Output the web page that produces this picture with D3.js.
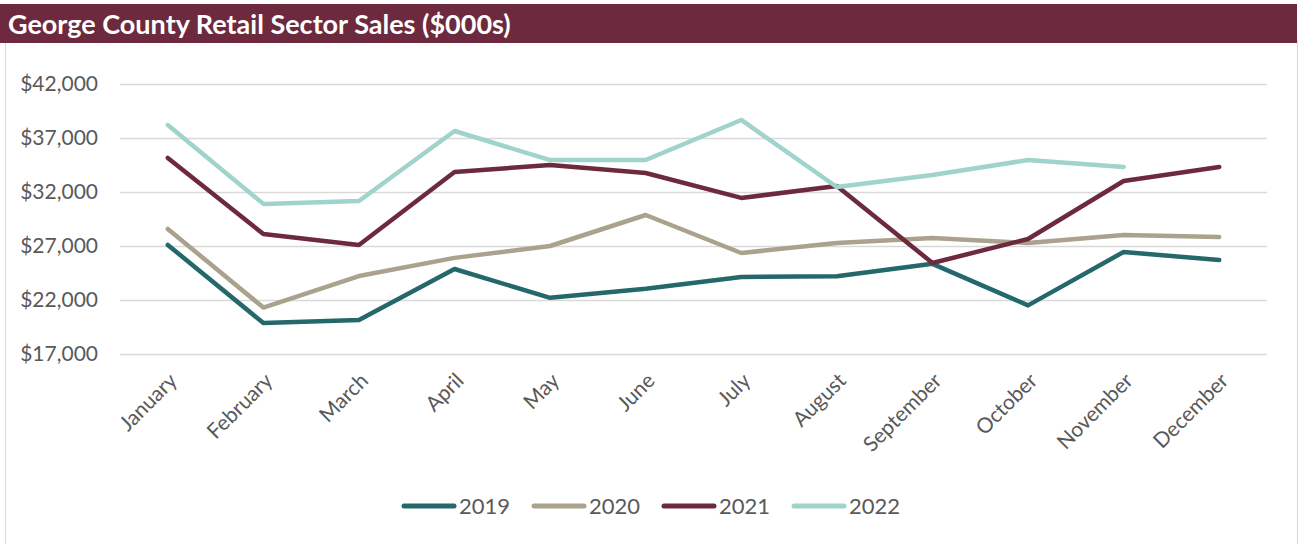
<!DOCTYPE html>
<html>
<head>
<meta charset="utf-8">
<script src="https://cdn.jsdelivr.net/npm/d3@7"></script>
<style>
  body { margin: 0; background: #fff; }
  svg { display: block; font-family: Lato, "Open Sans", sans-serif; }
</style>
</head>
<body>
<svg id="drawing_region"></svg>
<script>
const months = ['January', 'February', 'March', 'April', 'May', 'June',
    'July', 'August', 'September', 'October', 'November', 'December'];
const yTicks = [17000, 22000, 27000, 32000, 37000, 42000];

const sales2019 = [27100, 19870, 20150, 24870, 22200, 23050, 24130, 24200, 25350, 21500, 26450, 25700];
const sales2020 = [28580, 21300, 24220, 25900, 27000, 29870, 26350, 27280, 27750, 27280, 28020, 27830];
const sales2021 = [35150, 28110, 27100, 33850, 34500, 33760, 31450, 32550, 25430, 27650, 33020, 34320];
const sales2022 = [38200, 30900, 31170, 37650, 34960, 34960, 38670, 32460, 33570, 34960, 34320, null];

const series = [
    { name: '2019', values: sales2019, color: '#24686b' },
    { name: '2020', values: sales2020, color: '#aaa28c' },
    { name: '2021', values: sales2021, color: '#6d2a3e' },
    { name: '2022', values: sales2022, color: '#9fd3cb' }
];

const width = 1303;
const height = 544;

const svg = d3.select('#drawing_region')
    .attr('width', width)
    .attr('height', height);

// chart frame
svg.append('rect')
    .attr('x', 5.5).attr('y', 40.5)
    .attr('width', 1292).attr('height', 510)
    .attr('fill', 'none')
    .attr('stroke', '#d9d9d9');

// title bar
svg.append('rect')
    .attr('x', 0).attr('y', 4)
    .attr('width', 1297).attr('height', 39)
    .attr('fill', '#6d2a3e');

svg.append('text')
    .attr('x', 8)
    .attr('y', 34)
    .attr('fill', '#fff')
    .attr('font-size', '27px')
    .attr('font-weight', 'bold')
    .text('George County Retail Sector Sales ($000s)');

const xscale = d3.scalePoint()
    .domain(months)
    .range([120, 1267])
    .padding(0.5);

const yscale = d3.scaleLinear()
    .domain([17000, 42000])
    .range([354, 84]);

// gridlines + y labels
const yAxis = svg.append('g')
    .attr('transform', 'translate(120, 0)')
    .call(d3.axisLeft(yscale)
        .tickValues(yTicks)
        .tickSize(-1147)
        .tickPadding(22)
        .tickFormat(d => '$' + d3.format(',')(d)));

yAxis.select('.domain').remove();
yAxis.selectAll('.tick line')
    .attr('stroke', '#d9d9d9')
    .attr('stroke-width', 1.5);
yAxis.selectAll('.tick text')
    .attr('fill', '#595959')
    .attr('font-size', '21px')
    .attr('font-family', 'Lato, sans-serif');

// x labels
const xAxis = svg.append('g')
    .attr('transform', 'translate(0, 354)')
    .call(d3.axisBottom(xscale).tickSize(0));

xAxis.select('.domain').remove();
xAxis.selectAll('.tick text')
    .attr('fill', '#595959')
    .attr('font-size', '21px')
    .attr('font-family', 'Lato, sans-serif')
    .attr('text-anchor', 'end')
    .attr('dy', null)
    .attr('y', 0)
    .attr('transform', 'translate(10, 28) rotate(-45)');

// lines
const line = d3.line()
    .defined(d => d.v != null)
    .x(d => xscale(d.m))
    .y(d => yscale(d.v));

svg.append('g')
    .selectAll('path')
    .data(series)
    .enter()
    .append('path')
    .attr('d', s => line(s.values.map((v, i) => ({ m: months[i], v: v }))))
    .attr('fill', 'none')
    .attr('stroke', s => s.color)
    .attr('stroke-width', 4.5)
    .attr('stroke-linejoin', 'round')
    .attr('stroke-linecap', 'round');

// legend
const legend = svg.append('g')
    .selectAll('g')
    .data(series)
    .enter()
    .append('g')
    .attr('transform', (d, i) => `translate(${404 + i * 130}, 506)`);

legend.append('line')
    .attr('x1', 0).attr('x2', 50)
    .attr('stroke', d => d.color)
    .attr('stroke-width', 5)
    .attr('stroke-linecap', 'round');

legend.append('text')
    .attr('x', 55)
    .attr('y', 8)
    .attr('fill', '#595959')
    .attr('font-size', '22px')
    .text(d => d.name);
</script>
</body>
</html>
